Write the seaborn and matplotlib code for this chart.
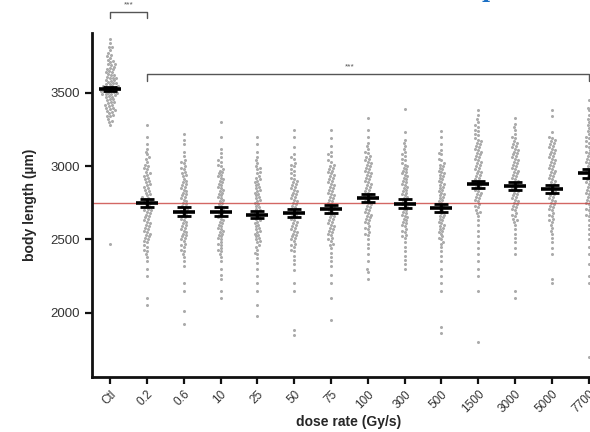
import matplotlib
matplotlib.use("Agg")
import matplotlib.pyplot as plt
import seaborn as sns
import pandas as pd

# dose rate groups (x categories)
groups = ["Ctl", "0.2", "0.6", "10", "25", "50", "75", "100", "300", "500",
          "1500", "3000", "5000", "7700"]

# individual body lengths (µm)
ctl = [3870, 3840, 3810, 3790, 3770, 3750, 3740, 3720, 3710, 3700, 3690, 3680, 3670, 3660,
       3650, 3640, 3630, 3620, 3610, 3600, 3600, 3590, 3580, 3570, 3560, 3560, 3550, 3550,
       3540, 3540, 3530, 3530, 3520, 3520, 3510, 3510, 3500, 3500, 3490, 3490, 3480, 3470,
       3460, 3450, 3440, 3430, 3420, 3410, 3400, 3390, 3380, 3370, 3360, 3350, 3340, 3320,
       3300, 3280, 2470,
       3815, 3760, 3725, 3695, 3665, 3645, 3625, 3605, 3585, 3575, 3565, 3545, 3535, 3525,
       3515, 3505, 3495, 3485, 3475, 3455, 3435, 3415, 3395, 3375, 3345, 3310]
g02 = [3280, 3200, 3150, 3120, 3100, 3080, 3050, 3030, 3000, 2980, 2960, 2940, 2920, 2900,
       2880, 2860, 2850, 2830, 2810, 2800, 2780, 2770, 2760, 2750, 2740, 2720, 2700, 2690,
       2680, 2660, 2640, 2620, 2600, 2580, 2560, 2540, 2520, 2500, 2480, 2450, 2420, 2400,
       2380, 2350, 2300, 2250, 2100, 2050,
       3060, 3010, 2990, 2950, 2930, 2910, 2890, 2870, 2840, 2820, 2790, 2775, 2755, 2730,
       2710, 2700, 2670, 2650, 2630, 2610, 2590, 2570, 2550, 2530, 2510, 2490, 2460, 2430]
g06 = [3220, 3180, 3150, 3100, 3070, 3040, 3020, 3000, 2980, 2950, 2930, 2900, 2880, 2860,
       2840, 2820, 2800, 2780, 2760, 2740, 2720, 2700, 2690, 2670, 2650, 2630, 2610, 2590,
       2570, 2550, 2530, 2510, 2490, 2470, 2450, 2420, 2400, 2380, 2350, 2320, 2200, 2150,
       2010, 1920,
       3030, 2990, 2960, 2940, 2910, 2890, 2870, 2850, 2830, 2810, 2790, 2770, 2750, 2730,
       2710, 2695, 2680, 2660, 2640, 2620, 2600, 2580, 2560, 2540, 2520, 2500, 2460, 2430]
g10 = [3300, 3200, 3120, 3090, 3060, 3030, 3000, 2980, 2960, 2940, 2920, 2900, 2880, 2860,
       2840, 2820, 2800, 2780, 2760, 2740, 2720, 2700, 2680, 2660, 2640, 2620, 2600, 2580,
       2560, 2540, 2520, 2500, 2480, 2460, 2440, 2420, 2400, 2380, 2350, 2300, 2260, 2230,
       2150, 2100,
       3040, 3010, 2970, 2950, 2930, 2910, 2890, 2870, 2850, 2830, 2810, 2790, 2770, 2750,
       2730, 2710, 2690, 2670, 2650, 2630, 2610, 2590, 2570, 2550, 2530, 2510, 2470, 2430]
g25 = [3200, 3150, 3100, 3060, 3020, 3000, 2980, 2950, 2920, 2900, 2880, 2860, 2840, 2820,
       2800, 2780, 2760, 2740, 2720, 2700, 2680, 2660, 2640, 2620, 2600, 2580, 2560, 2540,
       2520, 2500, 2480, 2460, 2430, 2400, 2370, 2340, 2300, 2250, 2200, 2150, 2050, 1980,
       3040, 2990, 2960, 2930, 2910, 2890, 2870, 2850, 2830, 2810, 2790, 2770, 2750, 2730,
       2710, 2690, 2670, 2650, 2630, 2610, 2590, 2570, 2550, 2530, 2510, 2490, 2450, 2410]
g50 = [3250, 3200, 3130, 3080, 3050, 3020, 3000, 2970, 2940, 2910, 2890, 2870, 2850, 2830,
       2810, 2790, 2770, 2750, 2730, 2710, 2690, 2670, 2650, 2630, 2610, 2590, 2570, 2550,
       2530, 2510, 2490, 2470, 2450, 2420, 2390, 2360, 2330, 2290, 2200, 2150, 1880, 1850,
       3060, 3010, 2980, 2950, 2920, 2900, 2880, 2860, 2840, 2820, 2800, 2780, 2760, 2740,
       2720, 2700, 2680, 2660, 2640, 2620, 2600, 2580, 2560, 2540, 2520, 2500, 2460, 2430]
g75 = [3250, 3190, 3140, 3100, 3070, 3040, 3010, 2990, 2970, 2950, 2930, 2910, 2890, 2870,
       2850, 2830, 2810, 2790, 2770, 2750, 2730, 2710, 2690, 2670, 2650, 2630, 2610, 2590,
       2570, 2550, 2530, 2510, 2490, 2470, 2440, 2410, 2380, 2350, 2320, 2260, 2200, 2100,
       1950,
       3080, 3030, 3000, 2980, 2960, 2940, 2920, 2900, 2880, 2860, 2840, 2820, 2800, 2780,
       2760, 2740, 2720, 2700, 2680, 2660, 2640, 2620, 2600, 2580, 2560, 2540, 2500, 2460]
g100 = [3330, 3250, 3200, 3160, 3120, 3090, 3060, 3040, 3020, 3000, 2980, 2960, 2940, 2920,
        2900, 2880, 2860, 2840, 2820, 2800, 2790, 2770, 2750, 2730, 2710, 2690, 2670, 2650,
        2630, 2610, 2590, 2570, 2550, 2530, 2500, 2470, 2440, 2400, 2350, 2300, 2280, 2230,
        3140, 3100, 3070, 3050, 3030, 3010, 2990, 2970, 2950, 2930, 2910, 2890, 2870, 2850,
        2830, 2810, 2795, 2780, 2760, 2740, 2720, 2700, 2680, 2660, 2640, 2620, 2580, 2540]
g300 = [3390, 3230, 3180, 3140, 3100, 3070, 3040, 3010, 2990, 2970, 2950, 2930, 2910, 2890,
        2870, 2850, 2830, 2810, 2790, 2770, 2750, 2730, 2710, 2690, 2670, 2650, 2630, 2610,
        2590, 2570, 2550, 2530, 2510, 2480, 2450, 2420, 2390, 2360, 2330, 2300,
        3160, 3120, 3080, 3050, 3020, 3000, 2980, 2960, 2940, 2920, 2900, 2880, 2860, 2840,
        2820, 2800, 2780, 2760, 2740, 2720, 2700, 2680, 2660, 2640, 2620, 2600, 2560, 2520]
g500 = [3240, 3200, 3150, 3110, 3080, 3050, 3020, 3000, 2980, 2960, 2940, 2920, 2900, 2880,
        2860, 2840, 2820, 2800, 2780, 2760, 2740, 2720, 2700, 2680, 2660, 2640, 2620, 2600,
        2580, 2560, 2540, 2520, 2500, 2480, 2450, 2420, 2390, 2350, 2300, 2250, 2200, 2150,
        1900, 1860,
        3090, 3040, 3010, 2990, 2970, 2950, 2930, 2910, 2890, 2870, 2850, 2830, 2810, 2790,
        2770, 2750, 2730, 2710, 2690, 2670, 2650, 2630, 2610, 2590, 2570, 2550, 2510, 2470]
g1500 = [3380, 3350, 3300, 3270, 3240, 3210, 3180, 3160, 3140, 3120, 3100, 3080, 3060, 3040,
         3020, 3000, 2980, 2960, 2940, 2920, 2900, 2880, 2860, 2840, 2820, 2800, 2780, 2760,
         2740, 2720, 2700, 2680, 2660, 2630, 2600, 2560, 2520, 2480, 2440, 2400, 2350, 2300,
         2250, 2150, 1800,
         3320, 3280, 3250, 3220, 3190, 3170, 3150, 3130, 3110, 3090, 3070, 3050, 3030, 3010,
         2990, 2970, 2950, 2930, 2910, 2890, 2870, 2850, 2830, 2810, 2790, 2770, 2730, 2690]
g3000 = [3330, 3290, 3250, 3220, 3190, 3160, 3140, 3120, 3100, 3080, 3060, 3040, 3020, 3000,
         2980, 2960, 2940, 2920, 2900, 2880, 2860, 2840, 2820, 2800, 2780, 2760, 2740, 2720,
         2700, 2680, 2660, 2640, 2620, 2600, 2570, 2540, 2510, 2480, 2440, 2400, 2150, 2100,
         3270, 3200, 3170, 3150, 3130, 3110, 3090, 3070, 3050, 3030, 3010, 2990, 2970, 2950,
         2930, 2910, 2890, 2870, 2850, 2830, 2810, 2790, 2770, 2750, 2730, 2710, 2670, 2630]
g5000 = [3380, 3340, 3200, 3180, 3160, 3140, 3120, 3100, 3080, 3060, 3040, 3020, 3000, 2980,
         2960, 2940, 2920, 2900, 2880, 2860, 2840, 2820, 2800, 2780, 2760, 2740, 2720, 2700,
         2680, 2660, 2640, 2620, 2600, 2580, 2560, 2540, 2510, 2480, 2440, 2400, 2230, 2200,
         3230, 3190, 3170, 3150, 3130, 3110, 3090, 3070, 3050, 3030, 3010, 2990, 2970, 2950,
         2930, 2910, 2890, 2870, 2850, 2830, 2810, 2790, 2770, 2750, 2730, 2710, 2670, 2630]
g7700 = [3450, 3400, 3350, 3300, 3260, 3220, 3190, 3160, 3130, 3100, 3080, 3060, 3040, 3020,
         3000, 2980, 2960, 2940, 2920, 2900, 2880, 2860, 2840, 2820, 2800, 2780, 2760, 2740,
         2720, 2700, 2680, 2660, 2630, 2600, 2570, 2540, 2500, 2450, 2400, 2330, 2250, 2200,
         1700,
         3380, 3320, 3280, 3240, 3200, 3170, 3140, 3110, 3090, 3070, 3050, 3030, 3010, 2990,
         2970, 2950, 2930, 2910, 2890, 2870, 2850, 2830, 2810, 2790, 2770, 2750, 2710, 2670]

# mean +/- SEM per group as shown by the black bars
means = [3525, 2750, 2690, 2690, 2670, 2680, 2710, 2785, 2745, 2715, 2875, 2865, 2845, 2950]
sems = [15, 28, 28, 28, 27, 28, 27, 27, 28, 28, 27, 27, 28, 28]

ref_level = 2750  # red reference line

all_vals = [ctl, g02, g06, g10, g25, g50, g75, g100, g300, g500, g1500, g3000, g5000, g7700]
rows = []
for g, vals in zip(groups, all_vals):
    for v in vals:
        rows.append((g, v))
df = pd.DataFrame(rows, columns=["dose", "length"])

sns.set_style("ticks")
plt.rcParams["font.family"] = ["Liberation Sans", "DejaVu Sans"]

fig = plt.figure(figsize=(5.9, 4.32), dpi=100)
ax = fig.add_axes([0.156, 0.127, 0.87, 0.797])

sns.swarmplot(data=df, x="dose", y="length", order=groups, color="#ababab",
              size=2.2, ax=ax, zorder=1)

ax.axhline(ref_level, color="#c9413d", lw=1.0, alpha=0.8, zorder=2)

xpos = list(range(len(groups)))
ax.errorbar(xpos, means, yerr=sems, fmt="none", ecolor="black", elinewidth=2,
            capsize=5, capthick=2, zorder=3)
ax.scatter(xpos, means, marker="_", s=260, color="black", linewidths=2.6, zorder=4)

ax.set_xlim(-0.49, 13.45)
ax.set_ylim(1560, 3910)
ax.set_yticks([2000, 2500, 3000, 3500])
ax.tick_params(axis="both", width=1.6, length=5, colors="#111111",
               labelcolor="#333333")
ax.tick_params(axis="y", labelsize=9.5)
ax.tick_params(axis="x", labelsize=8.5, pad=3)
ax.set_xticks(xpos)
ax.set_xticklabels(groups, rotation=45, ha="right", rotation_mode="anchor")
sns.despine(ax=ax)
for s in ["left", "bottom"]:
    ax.spines[s].set_linewidth(2)
    ax.spines[s].set_color("#111111")

ax.set_ylabel("body length (µm)", fontsize=10, fontweight="bold", labelpad=10)
ax.set_xlabel("dose rate (Gy/s)", fontsize=10, fontweight="bold", labelpad=0)

# significance brackets
bc = "#555555"
ax.plot([0, 0, 1, 1], [4010, 4050, 4050, 4010], color=bc, lw=1, clip_on=False)
ax.text(0.5, 4075, "***", ha="center", va="bottom", fontsize=6, color=bc)
ax.plot([1, 1, 13, 13], [3580, 3630, 3630, 3580], color=bc, lw=1, clip_on=False)
ax.text(6.5, 3655, "***", ha="center", va="bottom", fontsize=6, color=bc)

fig.text(0.83, 1.006, "p", color="#1a6fc4", fontsize=16, fontweight="bold",
         family="DejaVu Serif", ha="center", va="baseline")

fig.savefig("out.png", dpi=100)
